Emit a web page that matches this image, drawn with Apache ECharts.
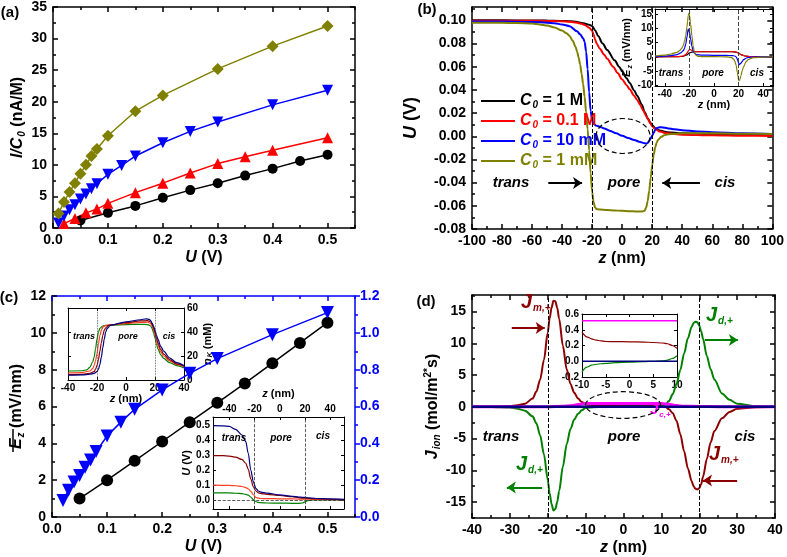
<!DOCTYPE html>
<html><head><meta charset="utf-8">
<script src="https://cdn.jsdelivr.net/npm/echarts@6/dist/echarts.min.js"></script>
<style>html,body{margin:0;padding:0;background:#fff}#c{width:787px;height:557px}</style>
</head><body><div id="c"></div>
<script>
// ================= DATA =================
// (a) I/C0 vs U
const aU_1M   = [0.05,0.1,0.15,0.2,0.25,0.3,0.35,0.4,0.45,0.5];
const aI_1M   = [1.2,2.4,3.5,4.8,6.0,7.1,8.3,9.4,10.6,11.6];
const aU_01M  = [0.02,0.04,0.06,0.08,0.1,0.15,0.2,0.25,0.3,0.35,0.4,0.5];
const aI_01M  = [0.7,1.5,2.4,3.0,3.9,5.6,7.1,8.7,10.2,11.3,12.3,14.3];
const aU_10mM = [0.01,0.02,0.03,0.04,0.05,0.06,0.07,0.08,0.1,0.125,0.15,0.2,0.25,0.3,0.4,0.5];
const aI_10mM = [0.8,1.9,2.9,3.7,4.6,5.4,6.2,7.0,8.5,9.9,11.4,13.5,15.3,16.8,19.5,21.8];
const aU_1mM  = [0.01,0.02,0.03,0.04,0.05,0.06,0.07,0.08,0.1,0.15,0.2,0.3,0.4,0.5];
const aI_1mM  = [2.3,4.1,5.7,7.1,8.6,10.0,11.4,12.5,14.6,18.5,21.0,25.2,28.8,32.0];

// (b) U vs z
const bZ_1M  = [-100,-80,-60,-50,-40,-35,-30,-27,-25,-22,-20,-18,-16,-13,-10,-5,-2,0,3,5,8,10,13,15,17,19,20,22,25,30,40,60,80,100];
const bU_1M  = [0.1000,0.1000,0.0999,0.0998,0.0995,0.0992,0.0986,0.0978,0.0972,0.0962,0.0951,0.0915,0.0865,0.0800,0.0745,0.0655,0.0600,0.0560,0.0500,0.0460,0.0395,0.0350,0.0275,0.0210,0.0155,0.0115,0.0095,0.0070,0.0050,0.0035,0.0025,0.0018,0.0013,0.0010];
const bZ_01M = [-100,-80,-60,-50,-40,-35,-30,-27,-25,-22,-20,-19,-18,-17,-15,-12,-10,-6,-3,0,3,5,8,10,12,14,16,17,19,20,22,25,30,40,60,80,100];
const bU_01M = [0.0997,0.0997,0.0996,0.0995,0.0992,0.0988,0.0980,0.0970,0.0960,0.0937,0.0912,0.0875,0.0835,0.0800,0.0758,0.0705,0.0668,0.0600,0.0545,0.0490,0.0440,0.0405,0.0350,0.0313,0.0270,0.0222,0.0175,0.0150,0.0105,0.0087,0.0062,0.0040,0.0025,0.0014,0.0008,0.0004,0.0002];
const bZ_10mM = [-100,-80,-60,-50,-45,-40,-35,-30,-28,-26,-25,-24,-23,-22,-21,-20,-19,-17,-14,-12,-8,-4,0,4,8,12,15,16,17,18,19,20,21,22,23,25,27,30,35,40,50,60,80,100];
const bU_10mM = [0.0990,0.0989,0.0986,0.0980,0.0974,0.0965,0.0950,0.0905,0.0880,0.0845,0.0815,0.0730,0.0580,0.0380,0.0220,0.0135,0.0105,0.0090,0.0078,0.0068,0.0046,0.0025,0.0005,-0.0015,-0.0032,-0.0050,-0.0060,-0.0063,-0.0058,-0.0042,-0.0018,0.0005,0.0030,0.0055,0.0070,0.0078,0.0076,0.0070,0.0060,0.0052,0.0042,0.0034,0.0025,0.0020];
const bZ_1mM = [-100,-80,-70,-60,-55,-50,-45,-40,-37,-35,-33,-31,-30,-29,-28,-27,-26,-25,-24,-23,-22,-21,-20,-19,-18,-17,-15,-10,-5,0,5,10,13,15,16,17,18,19,20,21,22,23,24,26,28,30,35,40,60,80,100];
const bU_1mM = [0.0980,0.0979,0.0977,0.0972,0.0965,0.0955,0.0938,0.0912,0.0888,0.0865,0.0825,0.0770,0.0730,0.0680,0.0620,0.0540,0.0450,0.0340,0.0210,0.0060,-0.0120,-0.0320,-0.0480,-0.0570,-0.0615,-0.0628,-0.0632,-0.0636,-0.0640,-0.0643,-0.0646,-0.0649,-0.0650,-0.0642,-0.0615,-0.0560,-0.0470,-0.0360,-0.0250,-0.0160,-0.0095,-0.0055,-0.0030,-0.0005,0.0008,0.0015,0.0022,0.0025,0.0025,0.0022,0.0020];
const bLegend = ['C0 = 1 M','C0 = 0.1 M','C0 = 10 mM','C0 = 1 mM'];

// (b) inset Ez vs z
const eZ_1M  = [-48,-30,-25,-22,-20,-18,-15,-10,0,10,15,18,20,22,25,30,48];
const eE_1M  = [0,0.05,0.2,0.7,1.4,1.7,1.8,1.8,1.8,1.8,1.8,1.7,1.3,0.8,0.3,0.05,0];
const eZ_01M = [-48,-30,-25,-23,-22,-21,-20,-19,-18,-16,-14,-10,0,10,15,18,20,22,25,30,48];
const eE_01M = [0,0.05,0.3,0.8,1.3,2.0,2.6,2.6,2.2,1.9,1.8,1.8,1.8,1.8,1.8,1.7,1.3,0.8,0.3,0.05,0];
const eZ_10mM = [-48,-40,-35,-30,-27,-25,-24,-23,-22,-21,-20.5,-20,-19,-18,-17,-16,-14,-10,0,10,15,17,18,19,20,20.5,21,22,23,24,26,28,32,40,48];
const eE_10mM = [0.1,0.25,0.45,0.8,1.4,2.2,3.0,4.5,7.0,9.8,9.7,8.8,6.2,3.8,2.2,1.3,0.8,0.6,0.55,0.5,0.45,0.3,0,-0.8,-2.2,-2.8,-2.7,-2.2,-1.6,-1.0,-0.5,-0.2,-0.05,0,0];
const eZ_1mM = [-48,-40,-35,-30,-28,-26,-25,-24,-23,-22,-21.5,-21,-20.5,-20,-19,-18,-17,-16,-15,-13,-10,0,10,14,16,17,18,19,19.5,20,20.5,21,22,23,24,26,28,32,40,48];
const eE_1mM = [0.3,0.6,1.0,1.6,2.2,3.2,4.0,5.4,7.5,10.5,12.5,14.5,15.4,14.8,11.5,7.5,4.0,1.8,0.7,0.2,0.1,0.05,0,-0.2,-0.8,-1.6,-3.0,-5.5,-7.0,-8.2,-8.4,-8.0,-6.5,-4.8,-3.5,-1.8,-0.9,-0.3,-0.05,0];

// (c) Ez-bar (left) and second quantity (right) vs U
const cU_E = [0.05,0.1,0.15,0.2,0.25,0.3,0.35,0.4,0.45,0.5];
const cE   = [1.0,2.0,3.05,4.1,5.15,6.2,7.25,8.35,9.45,10.55];
const cU_R = [0.02,0.03,0.04,0.05,0.06,0.07,0.08,0.1,0.125,0.15,0.2,0.25,0.3,0.4,0.5];
const cR   = [0.09,0.145,0.19,0.225,0.27,0.31,0.355,0.44,0.515,0.585,0.69,0.78,0.86,0.99,1.11];

// (c) inset 1: nK vs z
const c1Z_g = [-40,-30,-27,-25,-23,-22,-21,-20,-19,-18,-16,-13,-10,0,10,15,17,18,19,20,21,22,24,26,30,35,40];
const c1N_g = [7.5,7.7,8.5,10.5,15,19,26,34,40,43,45,45.6,45.8,46.2,46.4,46.2,45,43,39.5,35,30,26,21,18,14.5,12,10];
const c1Z_r = [-40,-30,-25,-23,-22,-21,-20,-19,-18,-17,-16,-14,-10,0,10,15,17,18,19,20,21,22,24,26,30,35,40];
const c1N_r = [6,6.2,7.5,9.5,12,16,22,30,37,41.5,44,45.5,46,47,48,48.2,47,45,42,37.5,33,29,23.5,20,16,13,11];
const c1Z_m = [-40,-30,-25,-22,-21,-20,-19,-18,-17,-16,-15,-14,-12,-10,0,10,15,17,18,19,20,21,22,24,26,30,35,40];
const c1N_m = [4.5,4.7,5.5,7,9,12,17,24,31,37,41.5,43.5,45.5,46,47.8,49.2,49.5,48.5,46.5,43.5,39.5,35,31,25.5,21.5,17,13.5,11.5];
const c1Z_n = [-40,-30,-25,-22,-20,-19,-18,-17,-16,-15,-14,-13,-11,-10,0,10,14,16,17,18,19,20,21,22,24,26,30,35,40];
const c1N_n = [4,4.2,4.8,5.5,7,9,13,19,27,34,40,43,45.3,45.8,48.5,50.2,51,50.5,49.5,47.5,45,41.5,37.5,34,28,24,18.5,14.5,12];

// (c) inset 2: U vs z
const c2Z   = [-53,-45,-40,-35,-30,-27,-25,-23,-21,-19,-17,-15,-10,0,10,15,18,20,22,25,30,40,51];
const c2U_n = [0.495,0.494,0.49,0.47,0.433,0.39,0.31,0.2,0.122,0.078,0.06,0.053,0.046,0.034,0.024,0.02,0.018,0.017,0.015,0.013,0.01,0.007,0.005];
const c2U_m = [0.296,0.295,0.292,0.285,0.27,0.245,0.205,0.14,0.088,0.06,0.048,0.043,0.038,0.03,0.022,0.016,0.013,0.012,0.011,0.009,0.008,0.005,0.003];
const c2U_r = [0.099,0.098,0.097,0.095,0.09,0.083,0.075,0.058,0.035,0.018,0.012,0.01,0.009,0.008,0.007,0.006,0.006,0.006,0.006,0.005,0.004,0.003,0.002];
const c2U_g = [0.048,0.048,0.047,0.045,0.042,0.038,0.032,0.02,0.002,-0.01,-0.016,-0.018,-0.02,-0.021,-0.022,-0.022,-0.02,-0.012,-0.004,0,0.001,0.001,0.001];

// (d) J_ion vs z
const dZ   = [-40,-35,-30,-28,-26,-24,-23,-22,-21,-20,-19.5,-19,-18.5,-18,-17.5,-17,-16,-15,-14,-13,-12,-11,-10,-8,-5,0,5,8,10,11,12,13,14,15,16,17,18,18.5,19,19.5,20,20.5,21,22,23,24,26,28,30,35,40];
const dJ_m = [0,0.02,0.1,0.25,0.5,1.3,2.4,4.3,7.4,11.7,13.9,15.6,16.7,16.6,15.6,13.9,9.6,5.9,3.6,2.2,1.3,0.75,0.37,0.3,0.26,0.248,0.24,0.225,0.17,0.0,-0.4,-1.0,-2.2,-4.3,-7.0,-9.7,-11.7,-12.5,-12.9,-13.0,-12.8,-12.2,-11.0,-8.2,-5.6,-3.8,-1.8,-0.8,-0.3,-0.05,0];
const dJ_d = [0,-0.02,-0.1,-0.3,-0.6,-1.5,-2.6,-4.5,-7.5,-11.5,-13.6,-15.3,-16.3,-16.1,-15.0,-13.3,-9.4,-5.9,-3.5,-2.0,-1.1,-0.55,-0.14,-0.06,-0.02,-0.005,0.0,0.015,0.07,0.35,0.9,2.0,3.6,5.8,8.4,10.8,12.6,13.2,13.4,13.3,12.8,11.9,10.7,8.0,5.9,4.3,2.1,1.1,0.5,0.1,0];
const dZ_c = [-40,-25,-20,-16,-14,-12,-10,10,12,14,16,20,25,30,40];
const dJ_c = [0,0,0.02,0.08,0.18,0.35,0.52,0.52,0.4,0.2,0.1,0.05,0.03,0,0];
const dZ_t = [-40,40];
const dJ_t = [0,0];
// (d) inset
const dIZ   = [-10,-9,-8,-7,-6,-5,-3,0,3,5,7,8,9,10];
const dIJ_m = [0.37,0.31,0.285,0.268,0.258,0.251,0.249,0.247,0.244,0.238,0.232,0.222,0.2,0.165];
const dIJ_d = [-0.136,-0.075,-0.05,-0.038,-0.032,-0.028,-0.018,-0.01,-0.005,0,0.005,0.015,0.035,0.07];
const dIZ_c = [-10,10];
const dIJ_c = [0.515,0.515];
const dIJ_t = [0,0];

// tick values
const tA_x = [0,0.1,0.2,0.3,0.4,0.5], tA_xm = [0.05,0.15,0.25,0.35,0.45,0.55];
const tA_y = [0,5,10,15,20,25,30,35], tA_ym = [2.5,7.5,12.5,17.5,22.5,27.5,32.5];
const tB_x = [-100,-80,-60,-40,-20,0,20,40,60,80,100], tB_xm = [-90,-70,-50,-30,-10,10,30,50,70,90];
const tB_y = [-0.08,-0.06,-0.04,-0.02,0,0.02,0.04,0.06,0.08,0.10], tB_ym = [-0.07,-0.05,-0.03,-0.01,0.01,0.03,0.05,0.07,0.09,0.11];
const tC_y = [0,2,4,6,8,10,12], tC_ym = [1,3,5,7,9,11];
const tC_r = [0,0.2,0.4,0.6,0.8,1.0,1.2], tC_rm = [0.1,0.3,0.5,0.7,0.9,1.1];
const tD_x = [-40,-30,-20,-10,0,10,20,30,40], tD_xm = [-35,-25,-15,-5,5,15,25,35];
const tD_y = [-15,-10,-5,0,5,10,15], tD_ym = [-17.5,-12.5,-7.5,-2.5,2.5,7.5,12.5,17.5];
const tBi_x = [-40,-20,0,20,40], tBi_y = [-10,-5,0,5,10,15];
const tC1_x = [-40,-20,0,20,40], tC1_y = [0,20,40,60];
const tC2_x = [-40,-20,0,20,40], tC2_y = [0,0.1,0.2,0.3,0.4,0.5];
const tDi_x = [-10,-5,0,5,10], tDi_y = [-0.2,0,0.2,0.4,0.6];

// ================= BUILD =================
const F = 'Liberation Sans, Arial, sans-serif';
const f0 = v => String(Math.round(v));
const f1 = v => v.toFixed(1);
const f2 = v => v.toFixed(2);
const BLK='#000', RED='#ff0000', BLU='#0000ff', OLV='#808000', NAV='#000080', MAR='#8b0000', GRN='#008000', ORG='#ff4020', MAG='#ff00ff';

function rich(fs){
  return {
    i:{fontFamily:F,fontStyle:'italic',fontWeight:'bold',fontSize:fs},
    t:{fontFamily:F,fontWeight:'bold',fontSize:fs},
    s:{fontFamily:F,fontStyle:'italic',fontWeight:'bold',fontSize:Math.round(fs*0.62),padding:[Math.round(fs*0.55),0,0,1]},
    p:{fontFamily:F,fontWeight:'bold',fontSize:Math.round(fs*0.62),padding:[0,0,Math.round(fs*0.55),0]}
  };
}
const xAxes=[], yAxes=[];
function push(list,o){list.push(o);return list.length-1;}
function side(kind,grid,pos,s,labels){
  const list = kind==='x'?xAxes:yAxes;
  const color = s.color||BLK;
  const lw = s.lw||1.5, tl = s.tl||5;
  const inside = !s.outside;
  const base = {type:'value',gridIndex:grid,position:pos,min:s.min,max:s.max,splitLine:{show:false},silent:true};
  const idx = push(list, Object.assign({}, base, {
    name: labels ? (s.name||'') : '', nameLocation:'middle', nameGap:s.nameGap||20,
    nameTextStyle:{color:BLK,fontFamily:F,fontWeight:'bold',fontSize:s.nfs||16,rich:rich(s.nfs||16)},
    axisLine:{show:true,onZero:false,lineStyle:{color,width:lw}},
    axisTick:{show:true,inside,length:tl,customValues:s.major,lineStyle:{color,width:lw}},
    axisLabel:{show:!!labels,customValues:s.major,formatter:s.fmt,fontFamily:F,fontWeight:'bold',fontSize:s.fs||14,color:s.labelColor||color,margin:s.margin==null?5:s.margin}
  }));
  if (s.minor) push(list, Object.assign({}, base, {
    axisLine:{show:false,onZero:false},
    axisTick:{show:true,inside,length:Math.max(2,Math.round(tl*0.55)),customValues:s.minor,lineStyle:{color,width:lw}},
    axisLabel:{show:false}
  }));
  return idx;
}

const grids = [
  {left:53,top:7,width:302,height:221},   // a
  {left:472,top:7,width:303,height:222},  // b
  {left:52,top:296,width:303,height:221}, // c
  {left:472,top:295,width:303,height:223},// d
  {left:655,top:9,width:118,height:77},   // b inset
  {left:68,top:308,width:116,height:72},  // c inset 1
  {left:213,top:417,width:131,height:92}, // c inset 2
  {left:582,top:314,width:95,height:63}   // d inset
];

// (a)
const aX = side('x',0,'bottom',{min:0,max:0.55,major:tA_x,minor:tA_xm,fmt:f1,name:'{i|U}{t| (V)}',nameGap:22},true);
side('x',0,'top',{min:0,max:0.55,major:tA_x,minor:tA_xm},false);
const aY = side('y',0,'left',{min:0,max:35,major:tA_y,minor:tA_ym,fmt:f0,name:'{i|I/C}{s|0}{t| (nA/M)}',nameGap:25,margin:6},true);
side('y',0,'right',{min:0,max:35,major:tA_y,minor:tA_ym},false);
// (b)
const bX = side('x',1,'bottom',{min:-100,max:100,major:tB_x,minor:tB_xm,fmt:f0,name:'{i|z}{t| (nm)}',nameGap:22},true);
side('x',1,'top',{min:-100,max:100,major:tB_x,minor:tB_xm},false);
const bY = side('y',1,'left',{min:-0.08,max:0.1115,major:tB_y,minor:tB_ym,fmt:f2,name:'{i|U}{t| (V)}',nameGap:52,margin:6,nfs:18},true);
side('y',1,'right',{min:-0.08,max:0.1115,major:tB_y,minor:tB_ym},false);
// (c)
const cX = side('x',2,'bottom',{min:0,max:0.55,major:tA_x,minor:tA_xm,fmt:f1,name:'{i|U}{t| (V)}',nameGap:22},true);
side('x',2,'top',{min:0,max:0.55,major:tA_x,minor:tA_xm,color:BLU},false);
const cY = side('y',2,'left',{min:0,max:12,major:tC_y,minor:tC_ym,fmt:f0,name:'{i|E}{s|z}{t| (mV/nm)}',nameGap:25,margin:6},true);
const cYR = side('y',2,'right',{min:0,max:1.2,major:tC_r,minor:tC_rm,fmt:f1,color:BLU,outside:true,margin:5},true);
// (d)
const dX = side('x',3,'bottom',{min:-40,max:40,major:tD_x,minor:tD_xm,fmt:f0,name:'{i|z}{t| (nm)}',nameGap:22},true);
side('x',3,'top',{min:-40,max:40,major:tD_x,minor:tD_xm},false);
const dY = side('y',3,'left',{min:-17.5,max:17.6,major:tD_y,minor:tD_ym,fmt:f0,name:'{i|J}{s|ion}{t| (mol/m}{p|2*}{t|s)}',nameGap:25,margin:6},true);
side('y',3,'right',{min:-17.5,max:17.6,major:tD_y,minor:tD_ym},false);
// (b) inset
const IS = {fs:10,nfs:11,lw:1,tl:3,margin:3};
const biX = side('x',4,'bottom',Object.assign({min:-48,max:48,major:tBi_x,fmt:f0,name:'{i|z}{t| (nm)}',nameGap:12},IS),true);
side('x',4,'top',Object.assign({min:-48,max:48,major:tBi_x},IS),false);
const biY = side('y',4,'left',Object.assign({min:-10.3,max:16.9,major:tBi_y,fmt:f0,name:'{i|E}{s|z}{t| (mV/nm)}',nameGap:14},IS),true);
side('y',4,'right',Object.assign({min:-10.3,max:16.9,major:tBi_y},IS),false);
// (c) inset 1
const c1X = side('x',5,'bottom',Object.assign({min:-40,max:40,major:tC1_x,fmt:f0,name:'{i|z}{t| (nm)}',nameGap:12},IS),true);
side('x',5,'top',Object.assign({min:-40,max:40,major:tC1_x},IS),false);
side('y',5,'left',Object.assign({min:0,max:60,major:tC1_y},IS),false);
const c1Y = side('y',5,'right',Object.assign({min:0,max:60,major:tC1_y,fmt:f0,name:'{i|n}{s|K}{t| (mM)}',nameGap:12},IS),true);
// (c) inset 2
const c2X = side('x',6,'top',Object.assign({min:-53,max:51,major:tC2_x,fmt:f0,name:'{i|z}{t| (nm)}',nameGap:18},IS),true);
side('x',6,'bottom',Object.assign({min:-53,max:51,major:tC2_x},IS),false);
const c2Y = side('y',6,'left',Object.assign({min:-0.06,max:0.553,major:tC2_y,fmt:f1,name:'{i|U}{t| (V)}',nameGap:20},IS),true);
side('y',6,'right',Object.assign({min:-0.06,max:0.553,major:tC2_y},IS),false);
// (d) inset
const diX = side('x',7,'bottom',Object.assign({min:-10,max:10,major:tDi_x,fmt:f0},IS),true);
side('x',7,'top',Object.assign({min:-10,max:10,major:tDi_x},IS),false);
const diY = side('y',7,'left',Object.assign({min:-0.2,max:0.6,major:tDi_y,fmt:f1},IS),true);
side('y',7,'right',Object.assign({min:-0.2,max:0.6,major:tDi_y},IS),false);

const series=[];
const pts=(xs,ys)=>xs.map((x,i)=>[x,ys[i]]);
function curve(name,xi,yi,xs,ys,color,w,extra){
  series.push(Object.assign({type:'line',name,xAxisIndex:xi,yAxisIndex:yi,data:pts(xs,ys),showSymbol:false,symbol:'none',smooth:0.3,smoothMonotone:'x',
    lineStyle:{color,width:w||1.5},itemStyle:{color},z:3,animation:false},extra||{}));
}
function markers(name,xi,yi,xs,ys,color,sym,size,rot){
  series.push({type:'line',name,xAxisIndex:xi,yAxisIndex:yi,data:pts(xs,ys),symbol:sym,symbolSize:size,symbolRotate:rot||0,showSymbol:true,
    lineStyle:{color,width:1.5},itemStyle:{color},z:4,animation:false});
}
const vDash = (color,w,dash)=>({silent:true,symbol:['none','none'],label:{show:false},lineStyle:{type:dash||'dashed',color:color||BLK,width:w||1},data:[{xAxis:-20},{xAxis:20}]});
const arrows = (color,list)=>({silent:true,symbol:['none','arrow'],symbolSize:9,label:{show:false},lineStyle:{type:'solid',color,width:1.8},
  data:list.map(a=>[{coord:a[0]},{coord:a[1]}])});

// (a)
markers('a1',aX,aY,aU_1M,aI_1M,BLK,'circle',10);
markers('a2',aX,aY,aU_01M,aI_01M,RED,'triangle',11);
markers('a3',aX,aY,aU_10mM,aI_10mM,BLU,'triangle',11,180);
markers('a4',aX,aY,aU_1mM,aI_1mM,OLV,'diamond',12);
// (b)
curve(bLegend[0],bX,bY,bZ_1M,bU_1M,BLK,2,{markLine:arrows(BLK,[[[-49.2,-0.0403],[-26.7,-0.0403]],[[51.8,-0.0403],[26.7,-0.0403]]])});
curve(bLegend[1],bX,bY,bZ_01M,bU_01M,RED,2);
curve(bLegend[2],bX,bY,bZ_10mM,bU_10mM,BLU,2);
curve(bLegend[3],bX,bY,bZ_1mM,bU_1mM,OLV,2,{markLine:vDash(BLK,1)});
// (b) inset
curve('e1',biX,biY,eZ_1M,eE_1M,BLK,1.2);
curve('e2',biX,biY,eZ_01M,eE_01M,RED,1.2);
curve('e3',biX,biY,eZ_10mM,eE_10mM,BLU,1.2);
curve('e4',biX,biY,eZ_1mM,eE_1mM,OLV,1.2,{markLine:vDash('#444',1)});
// (c)
markers('c1',cX,cY,cU_E,cE,BLK,'circle',12);
markers('c2',cX,cYR,cU_R,cR,BLU,'triangle',13,180);
// (c) inset 1
curve('n1',c1X,c1Y,c1Z_g,c1N_g,GRN,1.2,{markLine:vDash('#444',0.8,'dotted')});
curve('n2',c1X,c1Y,c1Z_r,c1N_r,ORG,1.2);
curve('n3',c1X,c1Y,c1Z_m,c1N_m,MAR,1.2);
curve('n4',c1X,c1Y,c1Z_n,c1N_n,NAV,1.2);
// (c) inset 2
curve('u1',c2X,c2Y,c2Z,c2U_g,GRN,1.2,{markLine:{silent:true,symbol:['none','none'],label:{show:false},lineStyle:{type:'dashed',color:'#333',width:0.8},data:[{xAxis:-20},{xAxis:20},{yAxis:0}]}});
curve('u2',c2X,c2Y,c2Z,c2U_r,ORG,1.2);
curve('u3',c2X,c2Y,c2Z,c2U_m,MAR,1.2);
curve('u4',c2X,c2Y,c2Z,c2U_n,NAV,1.2);
// (d)
curve('jm',dX,dY,dZ,dJ_m,MAR,2,{markLine:arrows(MAR,[[[-29.5,12.4],[-20.8,12.4]],[[30.0,-11.6],[21.0,-11.6]]])});
curve('jd',dX,dY,dZ,dJ_d,GRN,2,{markLine:arrows(GRN,[[[21.5,10.5],[30.2,10.5]],[[-21.5,-12.7],[-30.8,-12.7]]])});
curve('jc',dX,dY,dZ_c,dJ_c,MAG,3);
curve('jt',dX,dY,dZ_t,dJ_t,NAV,2.5,{markLine:vDash(BLK,1)});
// (d) inset
curve('ic',diX,diY,dIZ_c,dIJ_c,MAG,1.5);
curve('im',diX,diY,dIZ,dIJ_m,MAR,1.2);
curve('id',diX,diY,dIZ,dIJ_d,GRN,1.2);
curve('it',diX,diY,dIZ_c,dIJ_t,NAV,1.5);

// annotations
function T(x,y,text,o){return {type:'text',x,y,z:100,silent:true,style:Object.assign({text,fill:BLK,fontFamily:F,fontWeight:'bold',fontSize:15,align:'center',verticalAlign:'middle'},o||{})};}
const IT = (fs)=>({fontStyle:'italic',fontSize:fs});
function J(x,y,sub,col,fs){
  return {type:'text',x,y,z:100,silent:true,style:{text:'{J|J}{s|'+sub+'}',align:'left',verticalAlign:'middle',
    rich:{J:{fontFamily:F,fontStyle:'italic',fontWeight:'bold',fontSize:fs,fill:col},
          s:{fontFamily:F,fontStyle:'italic',fontWeight:'bold',fontSize:Math.round(fs*0.5),fill:col,padding:[Math.round(fs*0.6),0,0,1]}}}};
}
const graphic = [
  T(10,13,'(a)'), T(427,10,'(b)'), T(9,298,'(c)'), T(426,302,'(d)'),
  T(511,183,'trans',IT(15)), T(624,183,'pore',IT(15)), T(725,183,'cis',IT(15)),
  T(671,73,'trans',IT(10)), T(713,73,'pore',IT(10)), T(757,73,'cis',IT(10)),
  T(84,337,'trans',IT(9)), T(128,337,'pore',IT(9)), T(169,337,'cis',IT(9)),
  T(234,438,'trans',IT(10)), T(281,438,'pore',IT(10)), T(323,436,'cis',IT(10)),
  T(501,437,'trans',IT(15)), T(624,437,'pore',IT(15)), T(745,437,'cis',IT(15)),
  J(521,302,'m,+',MAR,20), J(706,315,'d,+',GRN,20), J(650,410,'c,+',MAG,15),
  J(516,464,'d,+',GRN,20), J(709,454,'m,+',MAR,20),
  {type:'ellipse',z:100,silent:true,shape:{cx:623,cy:136,rx:27,ry:17.5},style:{fill:'none',stroke:BLK,lineWidth:1.2,lineDash:[5,3]}},
  {type:'ellipse',z:100,silent:true,shape:{cx:623,cy:405,rx:37.5,ry:13.3},style:{fill:'none',stroke:BLK,lineWidth:1.2,lineDash:[5,3]}},
  {type:'line',z:100,silent:true,shape:{x1:13,y1:429,x2:13,y2:452},style:{stroke:BLK,lineWidth:1.5}}
];

const chart = echarts.init(document.getElementById('c'),null,{renderer:'canvas'});
chart.setOption({
  animation:false,
  backgroundColor:'#fff',
  grid:grids,
  xAxis:xAxes,
  yAxis:yAxes,
  series,
  legend:{show:true,selectedMode:false,orient:'vertical',left:476,top:88,icon:'rect',itemWidth:34,itemHeight:2,itemGap:2.5,
    data:bLegend.map((n,i)=>({name:n,icon:'rect',itemStyle:{color:[BLK,RED,BLU,OLV][i]},textStyle:{color:[BLK,RED,BLU,OLV][i]}})),
    formatter:n=>'{i|C}{s|0}{t|'+n.slice(2)+'}',
    textStyle:{fontFamily:F,fontWeight:'bold',fontSize:16,rich:rich(16)}},
  graphic
});
</script></body></html>
